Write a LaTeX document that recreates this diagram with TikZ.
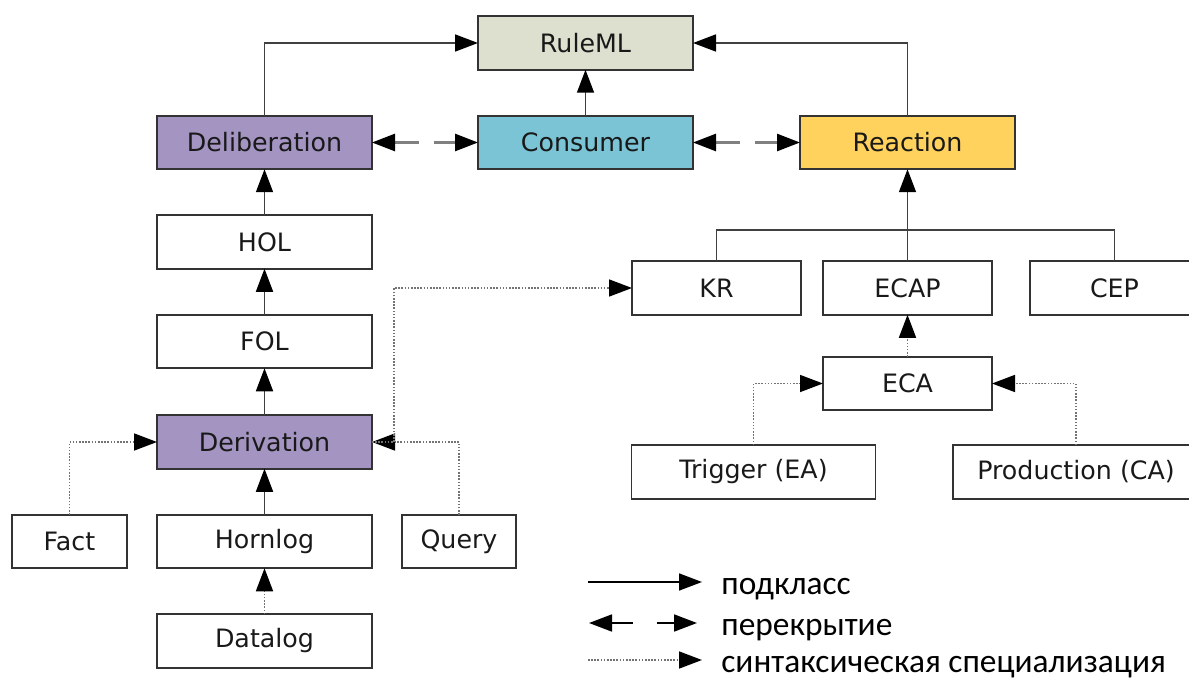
\documentclass[tikz,border=0pt]{standalone}
\usepackage{fontspec}
\setmainfont{DejaVu Sans}
\newfontfamily\legendfont{Carlito}
\usetikzlibrary{positioning, arrows.meta}
\definecolor{rulemlfill}{RGB}{221,224,206}
\definecolor{purplefill}{RGB}{163,148,194}
\definecolor{consumerfill}{RGB}{122,196,214}
\definecolor{reactionfill}{RGB}{255,210,94}
\colorlet{edgegray}{black!75}

\begin{document}
\begin{tikzpicture}[class/.style={rectangle,
      draw=black!80,
      line width=1.1pt,
      minimum width=#1,
      minimum height=1.07cm,
      inner sep=0pt,
      outer sep=0pt,
      text=black!90,
      font=\fontsize{14.4}{17}\selectfont},
    class/.default=4.3cm,
    head/.style={Triangle[length=0.46cm, width=0.34cm, color=black]},
    subclass/.style={-{Triangle[length=0.46cm, width=0.34cm, color=black]},
      line width=0.95pt,
      draw=edgegray},
    overlap/.style={{Triangle[length=0.46cm, width=0.34cm, color=black]}-{Triangle[length=0.46cm, width=0.34cm, color=black]},
      line width=1.5pt,
      draw=gray,
      dash pattern=on 0.5cm off 0.3cm},
    syntax/.style={-{Triangle[length=0.46cm, width=0.34cm, color=black]},
      line width=0.9pt,
      draw=black!55,
      dash pattern=on 0.9pt off 0.9pt},
    legendtext/.style={anchor=base west,
      inner sep=0pt,
      font=\legendfont\fontsize{19}{21}\selectfont}]

  \useasboundingbox (0,0) rectangle (23.78,-13.6);
  \clip (0,0) rectangle (23.78,-13.6);

% TOP ROW

  \node [class, fill=purplefill] (deliberation) at (5.29,-2.85) {Deliberation};

  \node [class, fill=consumerfill, 
    right=2.12cm of deliberation] (consumer) {Consumer};

  \node [class, fill=reactionfill, 
    right=2.14cm of consumer] (reaction) {Reaction};

  \node [class, fill=rulemlfill, 
    above=0.92cm of consumer] (ruleml) {RuleML};

% DELIBERATION BRANCH

  \node [class, below=0.92cm of deliberation] (hol) {HOL};
  \node [class, below=0.92cm of hol] (fol) {FOL};
  \node [class, fill=purplefill, 
    below=0.94cm of fol] (derivation) {Derivation};
  \node [class, below=0.92cm of derivation] (hornlog) {Hornlog};
  \node [class, below=0.92cm of hornlog] (datalog) {Datalog};
  \node [class=2.3cm, left=0.6cm of hornlog] (fact) {Fact};
  \node [class=2.28cm, right=0.6cm of hornlog] (query) {Query};

% REACTION BRANCH

  \node [class=3.38cm, below=1.84cm of reaction] (ecap) {ECAP};
  \node [class=3.38cm, left=0.44cm of ecap] (kr) {KR};
  \node [class=3.38cm, right=0.76cm of ecap] (cep) {CEP};
  \node [class=3.38cm, below=0.84cm of ecap] (eca) {ECA};
  \node [class=4.88cm, below=0.7cm of eca, 
    xshift=-3.08cm] (trigger) {Trigger (EA)};
  \node [class=4.92cm, below=0.7cm of eca, 
    xshift=3.37cm] (production) {Production (CA)};

% SUBCLASS

  \draw[subclass] (deliberation.north) |- (ruleml.west);
  \draw[subclass] (reaction.north) |- (ruleml.east);
  \draw[subclass] (consumer) -- (ruleml);
  \draw[subclass] (hol) -- (deliberation);
  \draw[subclass] (fol) -- (hol);
  \draw[subclass] (derivation) -- (fol);
  \draw[subclass] (hornlog) -- (derivation);
  \draw[edgegray, line width=0.95pt] (kr.north) -- ++(0,0.62) -| (cep.north);
  \draw[subclass] (ecap) -- (reaction);

% OVERLAP

  \draw[overlap] (deliberation) -- (consumer);
  \draw[overlap] (consumer) -- (reaction);

% SYNTACTIC SPECIALIZATION

  \draw[syntax] (datalog) -- (hornlog);
  \draw[syntax] (fact.north) |- (derivation.west);
  \draw[syntax] (query.north) |- (derivation.east);
  \draw[syntax] (derivation.east) -- ++(0.44,0) |- (kr.west);
  \draw[syntax] (eca) -- (ecap);
  \draw[syntax] (trigger.north) |- (eca.west);
  \draw[syntax] (production.north) |- (eca.east);

% LEGEND

  \coordinate (subfrom) at (11.76,-11.64);
  \coordinate (subto) at (14.04,-11.64);
  \coordinate (overfrom) at (11.78,-12.46);
  \coordinate (overto) at (13.94,-12.46);
  \coordinate (synfrom) at (11.76,-13.2);
  \coordinate (synto) at (14.04,-13.2);

  \node [legendtext, right=0.38cm of subto, yshift=-0.15cm] (subtext) {подкласс};
  \node [legendtext, right=0.38cm of subto |- overto, yshift=-0.15cm] (overtext) {перекрытие};
  \node [legendtext, right=0.38cm of synto, yshift=-0.15cm] (syntext) {синтаксическая специализация};

  \draw[subclass, draw=black] (subfrom) -- (subto);
  \draw[overlap, draw=black, line width=1pt, 
    dash pattern=on 0.42cm off 0.48cm] (overfrom) -- (overto);
  \draw[syntax] (synfrom) -- (synto);

\end{tikzpicture}
\end{document}
